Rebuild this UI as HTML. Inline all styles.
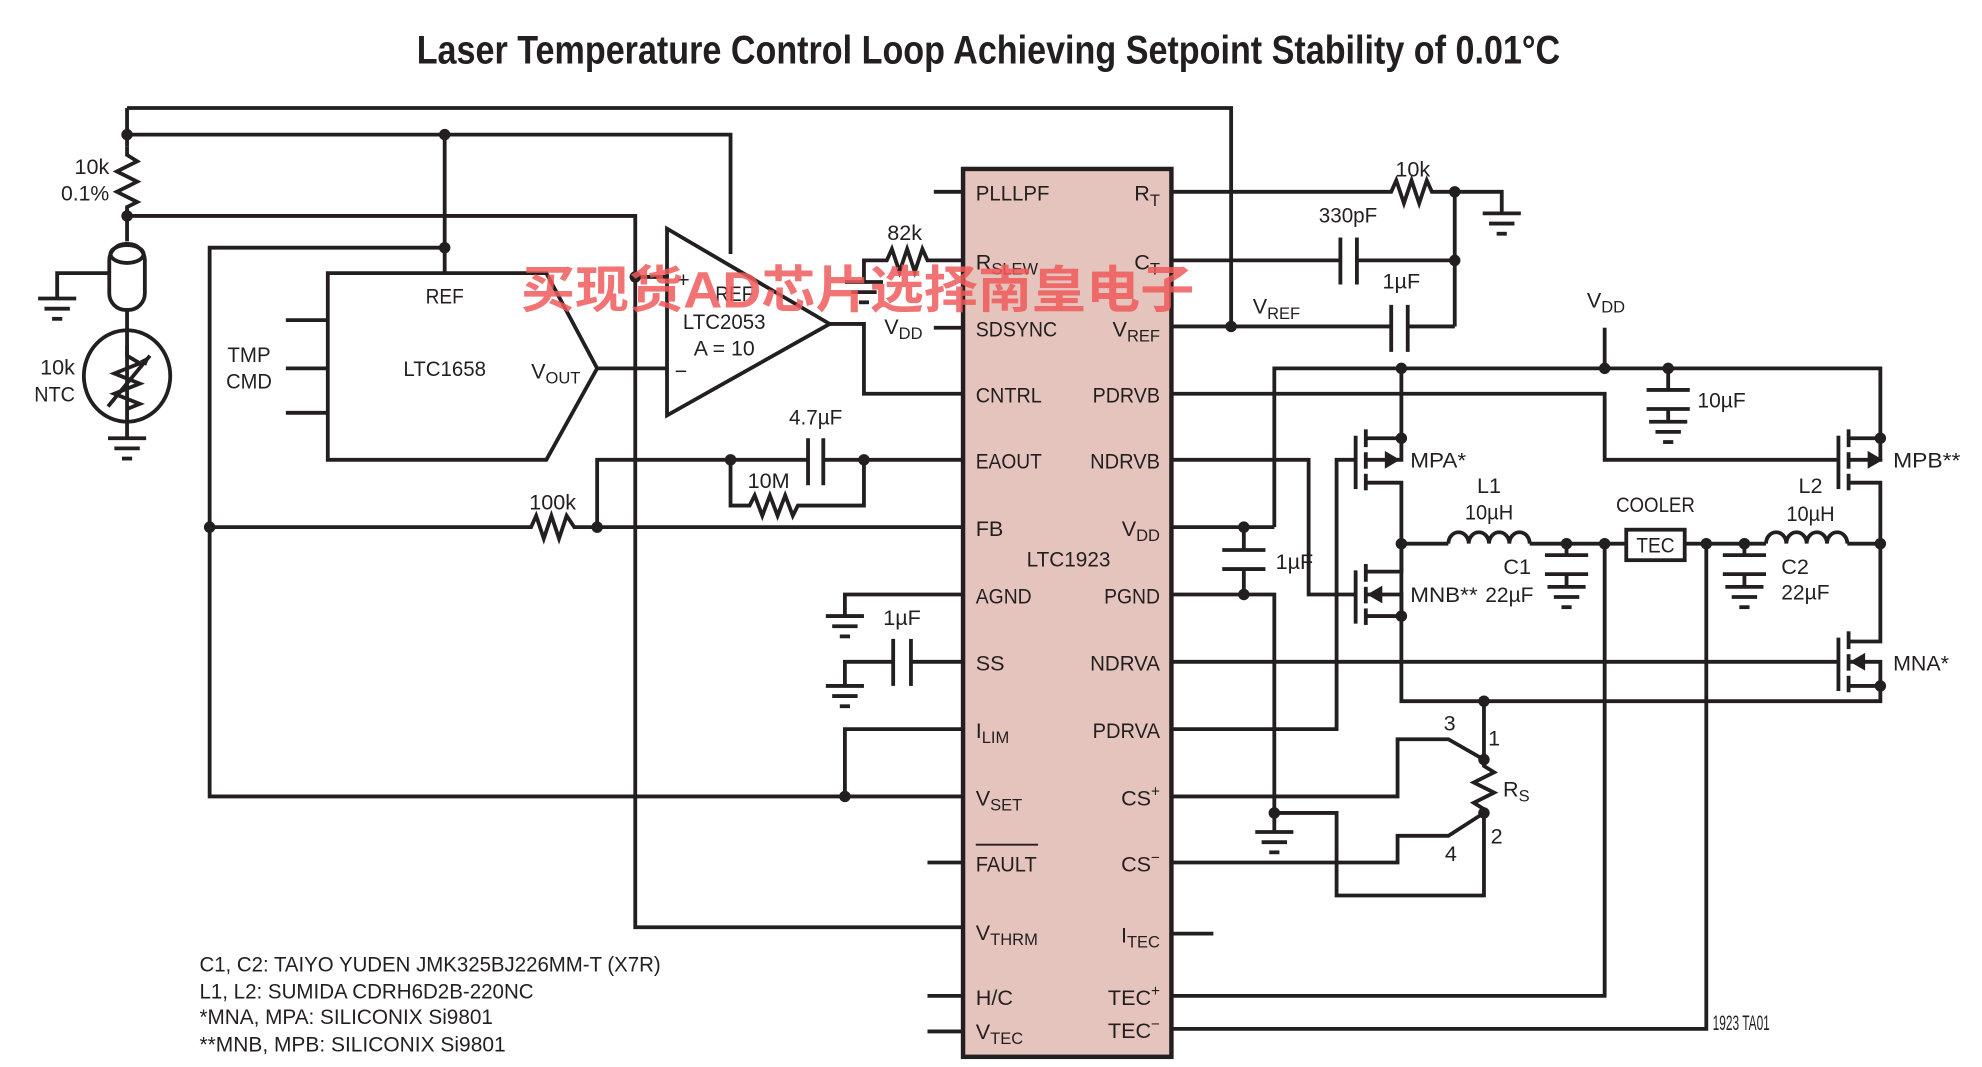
<!DOCTYPE html>
<html><head><meta charset="utf-8"><style>
html,body{margin:0;padding:0;background:#fff;}
svg{display:block;}
text{font-family:"Liberation Sans Narrow","Liberation Sans",sans-serif;fill:#231f20;font-size:17px;}
.r{text-anchor:end;}
.m{text-anchor:middle;}
</style></head><body>
<svg width="1982" height="1067" viewBox="0 0 1560 840" preserveAspectRatio="none" xmlns="http://www.w3.org/2000/svg">
<defs>
<g id="gnd" stroke="#231f20" stroke-width="3"><line x1="-15" y1="0" x2="15" y2="0"/><line x1="-10" y1="8" x2="10" y2="8"/><line x1="-4" y1="16" x2="4" y2="16"/></g>
</defs>
<text x="778" y="50" class="m" style="font-size:31px;font-weight:bold" textLength="900" lengthAdjust="spacingAndGlyphs">Laser Temperature Control Loop Achieving Setpoint Stability of 0.01°C</text>

<rect x="758" y="133" width="164" height="699" fill="#e5c4bd" stroke="#231f20" stroke-width="3.5"/>

<g fill="none" stroke="#231f20" stroke-width="3">
<polyline points="100,85 969,85 969,257"/>
<polyline points="100,85 100,115"/>
<polyline points="100,106 575,106 575,200"/>
<line x1="350" y1="106" x2="350" y2="215"/>
<polyline points="100,115 100,122 108,127 92,135 108,143 92,151 108,159 100,163 100,190"/>
<polyline points="100,170 500,170 500,730 758,730"/>
<line x1="500" y1="218" x2="525" y2="218"/>
<rect x="86" y="192" width="28" height="52" rx="13"/>
<ellipse cx="100" cy="200" rx="13" ry="7"/>
<polyline points="86,215 45,215 45,235"/>
<line x1="100" y1="245" x2="100" y2="345"/>
<ellipse cx="100" cy="296" rx="34" ry="36"/>
<polyline points="100,272 100,280 110,286 90,294 110,302 90,310 110,318 100,322"/>
<line x1="85" y1="320" x2="118" y2="280"/>
<polyline points="350,195 165,195 165,627 758,627"/>
<polyline points="165,415 418,415 422,406 428,424 434,406 440,424 446,406 452,415 758,415"/>
<polyline points="470,415 470,362 636,362"/>
<line x1="648" y1="362" x2="758" y2="362"/>
<line x1="636" y1="345" x2="636" y2="382"/>
<line x1="648" y1="345" x2="648" y2="382"/>
<polyline points="575,362 575,398 590,398 594,390 600,406 606,390 612,406 618,390 624,406 628,398 680,398 680,362"/>
<polygon points="258,215 430,215 470,290 430,362 258,362"/>
<line x1="225" y1="252" x2="258" y2="252"/>
<line x1="225" y1="290" x2="258" y2="290"/>
<line x1="225" y1="325" x2="258" y2="325"/>
<line x1="470" y1="290" x2="525" y2="290"/>
<polygon points="525,180 525,327 653,255"/>
<polyline points="653,255 680,255 680,310 758,310"/>
<polyline points="758,205 730,205 726,196 720,214 714,196 708,214 702,196 698,205 680,205 680,222"/>
<line x1="735" y1="151" x2="758" y2="151"/>
<line x1="735" y1="258" x2="758" y2="258"/>
<line x1="730" y1="679" x2="758" y2="679"/>
<line x1="730" y1="784" x2="758" y2="784"/>
<line x1="730" y1="812" x2="758" y2="812"/>
<polyline points="758,468 665,468 665,485"/>
<polyline points="758,521 717,521"/>
<polyline points="703,521 665,521 665,540"/>
<line x1="703" y1="503" x2="703" y2="540"/>
<line x1="717" y1="503" x2="717" y2="540"/>
<polyline points="758,574 665,574 665,627"/>
<polyline points="922,151 1095,151 1099,142 1105,160 1111,142 1117,160 1123,142 1127,151 1182,151 1182,168"/>
<polyline points="922,205 1055,205"/>
<polyline points="1068,205 1145,205"/>
<line x1="1055" y1="187" x2="1055" y2="224"/>
<line x1="1068" y1="187" x2="1068" y2="224"/>
<line x1="1145" y1="151" x2="1145" y2="257"/>
<polyline points="922,257 1095,257"/>
<polyline points="1108,257 1145,257"/>
<line x1="1095" y1="240" x2="1095" y2="277"/>
<line x1="1108" y1="240" x2="1108" y2="277"/>
<polyline points="1003,415 1003,290 1480,290 1480,345 1455,345"/>
<line x1="1263" y1="258" x2="1263" y2="290"/>
<line x1="1313" y1="290" x2="1313" y2="307"/>
<line x1="1296" y1="307" x2="1330" y2="307"/>
<line x1="1296" y1="322" x2="1330" y2="322"/>
<line x1="1313" y1="322" x2="1313" y2="332"/>
<line x1="922" y1="415" x2="1003" y2="415"/>
<line x1="979" y1="415" x2="979" y2="433"/>
<line x1="962" y1="433" x2="996" y2="433"/>
<line x1="962" y1="448" x2="996" y2="448"/>
<line x1="979" y1="448" x2="979" y2="468"/>
<polyline points="922,468 1003,468 1003,655"/>
<polyline points="1003,640 1052,640 1052,705 1168,705 1168,640"/>
<polyline points="922,310 1263,310 1263,362 1447,362"/>
<polyline points="922,362 1030,362 1030,468 1067,468"/>
<polyline points="922,574 1052,574 1052,362 1067,362"/>
<line x1="922" y1="521" x2="1447" y2="521"/>
<polyline points="922,627 1100,627 1100,582 1140,582 1168,598"/>
<polyline points="922,679 1100,679 1100,658 1140,658 1168,640"/>
<polyline points="922,784 1263,784 1263,428"/>
<polyline points="922,810 1343,810 1343,428"/>
<line x1="922" y1="735" x2="955" y2="735"/>
<polyline points="1103,290 1103,345 1075,345"/>
<line x1="1067" y1="343" x2="1067" y2="385"/>
<line x1="1075" y1="338" x2="1075" y2="352"/>
<line x1="1075" y1="356" x2="1075" y2="369"/>
<line x1="1075" y1="373" x2="1075" y2="386"/>
<polyline points="1075,362 1103,362 1103,345"/>
<polyline points="1075,380 1103,380 1103,552 1480,552 1480,540 1455,540"/>
<line x1="1067" y1="449" x2="1067" y2="491"/>
<line x1="1075" y1="444" x2="1075" y2="458"/>
<line x1="1075" y1="462" x2="1075" y2="475"/>
<line x1="1075" y1="479" x2="1075" y2="492"/>
<polyline points="1075,450 1103,450 1103,428"/>
<polyline points="1075,468 1103,468 1103,485 1075,485"/>
<line x1="1447" y1="343" x2="1447" y2="385"/>
<line x1="1455" y1="338" x2="1455" y2="352"/>
<line x1="1455" y1="356" x2="1455" y2="369"/>
<line x1="1455" y1="373" x2="1455" y2="386"/>
<polyline points="1455,362 1480,362 1480,345"/>
<polyline points="1455,380 1480,380 1480,505 1455,505"/>
<line x1="1447" y1="502" x2="1447" y2="544"/>
<line x1="1455" y1="497" x2="1455" y2="511"/>
<line x1="1455" y1="515" x2="1455" y2="528"/>
<line x1="1455" y1="532" x2="1455" y2="545"/>
<polyline points="1455,521 1480,521 1480,540"/>
<line x1="1103" y1="428" x2="1140" y2="428"/>
<path d="M1140,428 a8,9 0 0 1 16,0 a8,9 0 0 1 16,0 a8,9 0 0 1 16,0 a8,9 0 0 1 16,0"/>
<line x1="1204" y1="428" x2="1280" y2="428"/>
<rect x="1280" y="417" width="46" height="24"/>
<line x1="1326" y1="428" x2="1390" y2="428"/>
<path d="M1390,428 a8,9 0 0 1 16,0 a8,9 0 0 1 16,0 a8,9 0 0 1 16,0 a8,9 0 0 1 16,0"/>
<line x1="1454" y1="428" x2="1480" y2="428"/>
<line x1="1233" y1="428" x2="1233" y2="437"/>
<line x1="1216" y1="437" x2="1250" y2="437"/>
<line x1="1216" y1="452" x2="1250" y2="452"/>
<line x1="1233" y1="452" x2="1233" y2="462"/>
<line x1="1373" y1="428" x2="1373" y2="437"/>
<line x1="1356" y1="437" x2="1390" y2="437"/>
<line x1="1356" y1="452" x2="1390" y2="452"/>
<line x1="1373" y1="452" x2="1373" y2="462"/>
<polyline points="1168,552 1168,598 1168,603 1176,608 1160,616 1176,624 1160,632 1168,637 1168,640"/>
</g>
<g fill="#231f20">
<polygon points="1090,355 1102,362 1090,369"/>
<polygon points="1470,355 1482,362 1470,369"/>
<polygon points="1088,461 1076,468 1088,475"/>
<polygon points="1468,514 1456,521 1468,528"/>
<polygon points="118,280 110,284 115,288"/>
</g>
<g>
<use href="#gnd" x="45" y="235"/><use href="#gnd" x="100" y="345"/><use href="#gnd" x="680" y="222"/>
<use href="#gnd" x="665" y="485"/><use href="#gnd" x="665" y="540"/><use href="#gnd" x="1182" y="168"/>
<use href="#gnd" x="1313" y="332"/><use href="#gnd" x="1003" y="655"/><use href="#gnd" x="1233" y="462"/><use href="#gnd" x="1373" y="462"/>
</g>
<g fill="#231f20">
<circle cx="100" cy="106" r="4.5"/><circle cx="350" cy="106" r="4.5"/><circle cx="100" cy="170" r="4.5"/><circle cx="350" cy="195" r="4.5"/>
<circle cx="500" cy="218" r="4.5"/><circle cx="165" cy="415" r="4.5"/><circle cx="470" cy="415" r="4.5"/><circle cx="575" cy="362" r="4.5"/>
<circle cx="680" cy="362" r="4.5"/><circle cx="665" cy="627" r="4.5"/><circle cx="969" cy="257" r="4.5"/><circle cx="1145" cy="151" r="4.5"/>
<circle cx="1145" cy="205" r="4.5"/><circle cx="1103" cy="290" r="4.5"/><circle cx="1263" cy="290" r="4.5"/><circle cx="1313" cy="290" r="4.5"/>
<circle cx="979" cy="415" r="4.5"/><circle cx="979" cy="468" r="4.5"/><circle cx="1003" cy="640" r="4.5"/><circle cx="1103" cy="345" r="4.5"/>
<circle cx="1480" cy="345" r="4.5"/><circle cx="1103" cy="428" r="4.5"/><circle cx="1233" cy="428" r="4.5"/><circle cx="1263" cy="428" r="4.5"/>
<circle cx="1343" cy="428" r="4.5"/><circle cx="1373" cy="428" r="4.5"/><circle cx="1480" cy="428" r="4.5"/><circle cx="1103" cy="485" r="4.5"/>
<circle cx="1480" cy="540" r="4.5"/><circle cx="1168" cy="552" r="4.5"/><circle cx="1168" cy="598" r="4.5"/><circle cx="1168" cy="640" r="4.5"/>
</g>
<g>
<text x="768" y="158" textLength="58" lengthAdjust="spacingAndGlyphs">PLLLPF</text>
<text x="768" y="212">R<tspan font-size="13" dy="4">SLEW</tspan></text>
<text x="768" y="265" textLength="64" lengthAdjust="spacingAndGlyphs">SDSYNC</text>
<text x="768" y="317" textLength="52" lengthAdjust="spacingAndGlyphs">CNTRL</text>
<text x="768" y="369" textLength="52" lengthAdjust="spacingAndGlyphs">EAOUT</text>
<text x="768" y="422">FB</text>
<text x="768" y="475" textLength="44" lengthAdjust="spacingAndGlyphs">AGND</text>
<text x="768" y="528">SS</text>
<text x="768" y="581">I<tspan font-size="13" dy="4">LIM</tspan></text>
<text x="768" y="634">V<tspan font-size="13" dy="4">SET</tspan></text>
<text x="768" y="686" textLength="48" lengthAdjust="spacingAndGlyphs">FAULT</text>
<line x1="768" y1="665" x2="817" y2="665" stroke="#231f20" stroke-width="1.5"/>
<text x="768" y="740">V<tspan font-size="13" dy="4">THRM</tspan></text>
<text x="768" y="791">H/C</text>
<text x="768" y="818">V<tspan font-size="13" dy="4">TEC</tspan></text>
<text x="913" y="158" class="r">R<tspan font-size="13" dy="4">T</tspan></text>
<text x="913" y="212" class="r">C<tspan font-size="13" dy="4">T</tspan></text>
<text x="913" y="265" class="r">V<tspan font-size="13" dy="4">REF</tspan></text>
<text x="913" y="317" class="r" textLength="53" lengthAdjust="spacingAndGlyphs">PDRVB</text>
<text x="913" y="369" class="r" textLength="55" lengthAdjust="spacingAndGlyphs">NDRVB</text>
<text x="913" y="422" class="r">V<tspan font-size="13" dy="4">DD</tspan></text>
<text x="913" y="475" class="r" textLength="44" lengthAdjust="spacingAndGlyphs">PGND</text>
<text x="913" y="528" class="r" textLength="55" lengthAdjust="spacingAndGlyphs">NDRVA</text>
<text x="913" y="581" class="r" textLength="53" lengthAdjust="spacingAndGlyphs">PDRVA</text>
<text x="913" y="634" class="r">CS<tspan font-size="12" dy="-7">+</tspan></text>
<text x="913" y="686" class="r">CS<tspan font-size="12" dy="-7">−</tspan></text>
<text x="913" y="742" class="r">I<tspan font-size="13" dy="4">TEC</tspan></text>
<text x="913" y="791" class="r">TEC<tspan font-size="12" dy="-7">+</tspan></text>
<text x="913" y="817" class="r">TEC<tspan font-size="12" dy="-7">−</tspan></text>
<text x="841" y="446" class="m" textLength="66" lengthAdjust="spacingAndGlyphs">LTC1923</text>
</g>
<g>
<text x="86" y="137" class="r">10k</text>
<text x="86" y="158" class="r" textLength="38" lengthAdjust="spacingAndGlyphs">0.1%</text>
<text x="59" y="295" class="r">10k</text>
<text x="59" y="316" class="r" textLength="32" lengthAdjust="spacingAndGlyphs">NTC</text>
<text x="196" y="285" class="m" textLength="34" lengthAdjust="spacingAndGlyphs">TMP</text>
<text x="196" y="306" class="m" textLength="36" lengthAdjust="spacingAndGlyphs">CMD</text>
<text x="350" y="239" class="m" textLength="30" lengthAdjust="spacingAndGlyphs">REF</text>
<text x="350" y="296" class="m" textLength="65" lengthAdjust="spacingAndGlyphs">LTC1658</text>
<text x="418" y="298">V<tspan font-size="13" dy="4">OUT</tspan></text>
<text x="533" y="226" font-size="20">+</text>
<text x="563" y="237" textLength="30" lengthAdjust="spacingAndGlyphs">REF</text>
<text x="570" y="259" class="m" textLength="65" lengthAdjust="spacingAndGlyphs">LTC2053</text>
<text x="570" y="280" class="m" textLength="48" lengthAdjust="spacingAndGlyphs">A = 10</text>
<text x="531" y="298" font-size="20">−</text>
<text x="712" y="189" class="m">82k</text>
<text x="696" y="263">V<tspan font-size="13" dy="4">DD</tspan></text>
<text x="642" y="334" class="m" textLength="42" lengthAdjust="spacingAndGlyphs">4.7µF</text>
<text x="605" y="384" class="m">10M</text>
<text x="435" y="401" class="m">100k</text>
<text x="710" y="492" class="m">1µF</text>
<text x="1112" y="139" class="m">10k</text>
<text x="1061" y="175" class="m" textLength="46" lengthAdjust="spacingAndGlyphs">330pF</text>
<text x="1103" y="227" class="m">1µF</text>
<text x="986" y="247">V<tspan font-size="13" dy="4">REF</tspan></text>
<text x="1249" y="242">V<tspan font-size="13" dy="4">DD</tspan></text>
<text x="1336" y="321" textLength="38" lengthAdjust="spacingAndGlyphs">10µF</text>
<text x="1004" y="448">1µF</text>
<text x="1110" y="368" textLength="44" lengthAdjust="spacingAndGlyphs">MPA*</text>
<text x="1490" y="368" textLength="53" lengthAdjust="spacingAndGlyphs">MPB**</text>
<text x="1110" y="474" textLength="53" lengthAdjust="spacingAndGlyphs">MNB**</text>
<text x="1490" y="528" textLength="44" lengthAdjust="spacingAndGlyphs">MNA*</text>
<text x="1172" y="388" class="m">L1</text>
<text x="1172" y="409" class="m" textLength="38" lengthAdjust="spacingAndGlyphs">10µH</text>
<text x="1425" y="388" class="m">L2</text>
<text x="1425" y="410" class="m" textLength="38" lengthAdjust="spacingAndGlyphs">10µH</text>
<text x="1303" y="403" class="m" textLength="62" lengthAdjust="spacingAndGlyphs">COOLER</text>
<text x="1303" y="435" class="m" textLength="30" lengthAdjust="spacingAndGlyphs">TEC</text>
<text x="1205" y="452" class="r">C1</text>
<text x="1207" y="474" class="r" textLength="38" lengthAdjust="spacingAndGlyphs">22µF</text>
<text x="1402" y="452">C2</text>
<text x="1402" y="472" textLength="38" lengthAdjust="spacingAndGlyphs">22µF</text>
<text x="1141" y="575" class="m">3</text>
<text x="1176" y="587" class="m">1</text>
<text x="1183" y="627">R<tspan font-size="13" dy="4">S</tspan></text>
<text x="1178" y="664" class="m">2</text>
<text x="1142" y="678" class="m">4</text>
<text x="1348" y="811" font-size="9" textLength="45" lengthAdjust="spacingAndGlyphs">1923 TA01</text>
<text x="157" y="765" font-size="17" textLength="363" lengthAdjust="spacingAndGlyphs">C1, C2: TAIYO YUDEN JMK325BJ226MM-T (X7R)</text>
<text x="157" y="786" font-size="17" textLength="263" lengthAdjust="spacingAndGlyphs">L1, L2: SUMIDA CDRH6D2B-220NC</text>
<text x="157" y="806" font-size="17" textLength="231" lengthAdjust="spacingAndGlyphs">*MNA, MPA: SILICONIX Si9801</text>
<text x="157" y="828" font-size="17" textLength="241" lengthAdjust="spacingAndGlyphs">**MNB, MPB: SILICONIX Si9801</text>
</g>
<text x="410" y="242" style="font-family:'Liberation Sans','Noto Sans CJK SC',sans-serif;font-size:40px;font-weight:bold;fill:#f05a5a;fill-opacity:0.85" textLength="530" lengthAdjust="spacingAndGlyphs">买现货AD芯片选择南皇电子</text>
</svg>
</body></html>
